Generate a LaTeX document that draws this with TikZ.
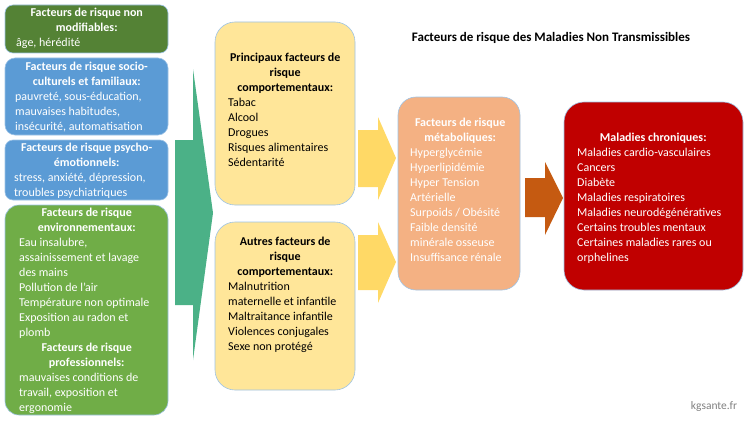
\documentclass[tikz,border=0pt]{standalone}
\usepackage{fontspec}
\setmainfont{Carlito}
\usetikzlibrary{positioning}
\definecolor{dgreen}{HTML}{548235}
\definecolor{lgreen}{HTML}{70AD47}
\definecolor{blu}{HTML}{5B9BD5}
\definecolor{yel}{HTML}{FFE699}
\definecolor{yarr}{HTML}{FFD966}
\definecolor{sal}{HTML}{F4B183}
\definecolor{rd}{HTML}{C00000}
\definecolor{teal}{HTML}{4BB187}
\definecolor{orng}{HTML}{C55A11}
\newcommand{\hc}[2]{\makebox[#1][c]{\bfseries #2}}
\begin{document}
\begin{tikzpicture}[x=1pt,y=-1pt,
 box/.style={rounded corners=#1, draw=blu!60!white, line width=0.6pt, inner sep=0pt},
 bd/.style={align=left, font=\fontsize{12}{15}\selectfont, inner sep=0pt, anchor=north west}]
\useasboundingbox (0,0) rectangle (746,420);
% left boxes
\path[box=8pt, fill=dgreen] (5,5) rectangle (168,53);
\path[box=10pt, fill=blu] (5,58) rectangle (168,135);
\path[box=8pt, fill=blu] (5,140) rectangle (168,200);
\path[box=14pt, fill=lgreen] (5,205) rectangle (168,415);
\begin{scope}[text=white]
\node[bd] (b1) at (16,8) {\hc{141pt}{Facteurs de risque non}\\\hc{141pt}{modifiables:}\\âge, hérédité};
\node[bd] (b2) at (15,62) {\hc{143pt}{Facteurs de risque socio-}\\\hc{143pt}{culturels et familiaux:}\\pauvreté, sous-éducation,\\mauvaises habitudes,\\insécurité, automatisation};
\node[bd] (b3) at (14,143) {\hc{145pt}{Facteurs de risque psycho-}\\\hc{145pt}{émotionnels:}\\stress, anxiété, dépression,\\troubles psychiatriques};
\node[bd] (b4) at (19,208) {\hc{135pt}{Facteurs de risque}\\\hc{135pt}{environnementaux:}\\Eau insalubre,\\assainissement et lavage\\des mains\\Pollution de l'air\\Température non optimale\\Exposition au radon et\\plomb\\\hc{135pt}{Facteurs de risque}\\\hc{135pt}{professionnels:}\\mauvaises conditions de\\travail, exposition et\\ergonomie};
\end{scope}
% teal arrow
\fill[teal] (175,140) -- (193,140) -- (193,69) -- (213,213) -- (193,360) -- (193,305) -- (175,305) -- cycle;
% yellow boxes
\path[box=20pt, fill=yel] (215,22) rectangle (355,205);
\path[box=20pt, fill=yel] (215,222) rectangle (355,390);
\node[bd] (b6) at (228,53) {\hc{114pt}{Principaux facteurs de}\\\hc{114pt}{risque}\\\hc{114pt}{comportementaux:}\\Tabac\\Alcool\\Drogues\\Risques alimentaires\\Sédentarité};
\node[bd] (b7) at (228,237) {\hc{114pt}{Autres facteurs de}\\\hc{114pt}{risque}\\\hc{114pt}{comportementaux:}\\Malnutrition\\maternelle et infantile\\Maltraitance infantile\\Violences conjugales\\Sexe non protégé};
% yellow arrows
\fill[yarr] (358,130) -- (378,130) -- (378,117) -- (396,158) -- (378,200) -- (378,187) -- (358,187) -- cycle;
\fill[yarr] (358,235) -- (378,235) -- (378,222) -- (396,262) -- (378,303) -- (378,290) -- (358,290) -- cycle;
% salmon
\path[box=18pt, fill=sal] (398,97) rectangle (520,290);
\node[bd, text=white] (b8) at (410,118) {\hc{100pt}{Facteurs de risque}\\\hc{100pt}{métaboliques:}\\Hyperglycémie\\Hyperlipidémie\\Hyper Tension\\Artérielle\\Surpoids / Obésité\\Faible densité\\minérale osseuse\\Insuffisance rénale};
% orange arrow
\fill[orng] (525,178) -- (545,178) -- (545,162) -- (563,198) -- (545,235) -- (545,217) -- (525,217) -- cycle;
% red
\path[box=20pt, fill=rd] (564,102) rectangle (743,290);
\node[bd, text=white] (b9) at (577,133) {\hc{152pt}{Maladies chroniques:}\\Maladies cardio-vasculaires\\Cancers\\Diabète\\Maladies respiratoires\\Maladies neurodégénératives\\Certains troubles mentaux\\Certaines maladies rares ou\\orphelines};
\node[font=\bfseries\fontsize{13}{15}\selectfont] (title) at (551,38) {Facteurs de risque des Maladies Non Transmissibles};
\node[text=gray, font=\fontsize{11.5}{13}\selectfont] (kg) at (714,406) {kgsante.fr};
\end{tikzpicture}
\end{document}
